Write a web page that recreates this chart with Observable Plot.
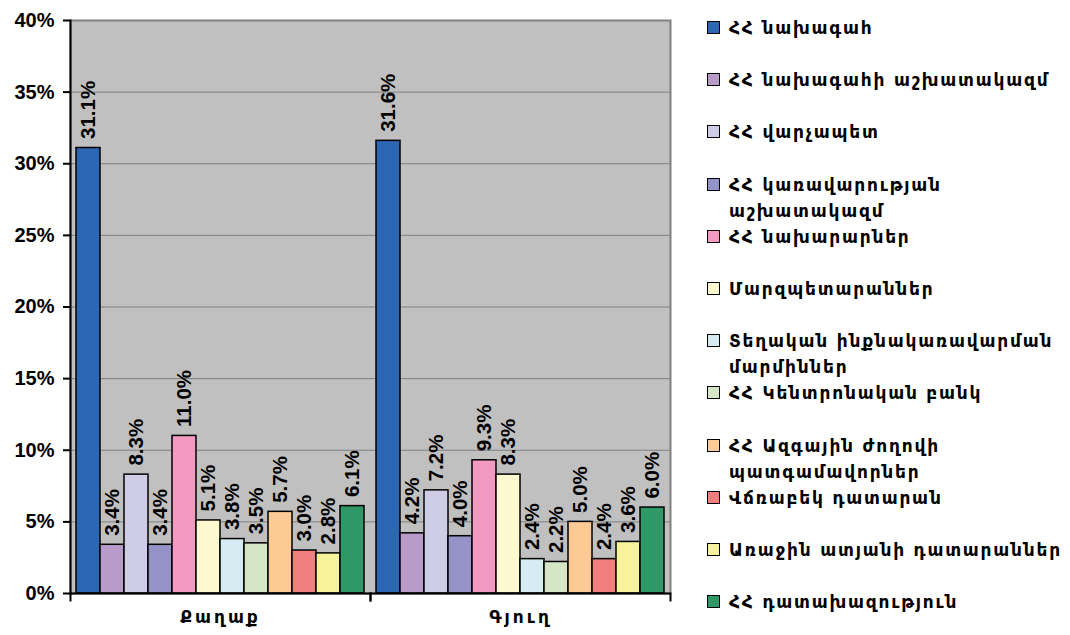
<!DOCTYPE html>
<html>
<head>
<meta charset="utf-8">
<script src="https://cdn.jsdelivr.net/npm/d3@7"></script>
<script src="https://cdn.jsdelivr.net/npm/@observablehq/plot@0.6"></script>
<style>
  html, body { margin: 0; padding: 0; background: #fff; }
  #wrap { position: relative; width: 1070px; height: 635px; overflow: hidden; }
  #legend { position: absolute; left: 707px; top: 15px; width: 363px;
    font-family: "DejaVu Sans", sans-serif; font-weight: bold; font-size: 17px; color: #000; }
  .item { display: flex; align-items: flex-start; height: 52.2px; }
  .sw { width: 11px; height: 11px; border: 1.5px solid #000; flex: none; margin-top: 6px; margin-right: 9px; }
  .lbl { line-height: 26px; letter-spacing: 1.8px; width: 342px; }
  svg [aria-label="fx-axis tick label"] text { letter-spacing: 3px; }
</style>
</head>
<body>
<div id="wrap"><div id="chart"></div><div id="legend"></div></div>
<script>
const categories = ["Քաղաք", "Գյուղ"];
const series = [
  "ՀՀ նախագահ",
  "ՀՀ նախագահի աշխատակազմ",
  "ՀՀ վարչապետ",
  "ՀՀ կառավարության աշխատակազմ",
  "ՀՀ նախարարներ",
  "Մարզպետարաններ",
  "Տեղական ինքնակառավարման մարմիններ",
  "ՀՀ Կենտրոնական բանկ",
  "ՀՀ Ազգային ժողովի պատգամավորներ",
  "Վճռաբեկ դատարան",
  "Առաջին ատյանի դատարաններ",
  "ՀՀ դատախազություն"
];
const cityValues = [31.1, 3.4, 8.3, 3.4, 11.0, 5.1, 3.8, 3.5, 5.7, 3.0, 2.8, 6.1];
const villageValues = [31.6, 4.2, 7.2, 4.0, 9.3, 8.3, 2.4, 2.2, 5.0, 2.4, 3.6, 6.0];
const colors = ["#2b67b3", "#b89bc9", "#cfcce8", "#9393c7", "#f49ac2", "#fcf8d0",
                "#d5ecf3", "#d4e6c6", "#fdc995", "#f17f7f", "#f7f39a", "#2e9866"];
const yTicks = [0, 5, 10, 15, 20, 25, 30, 35, 40];

const valuesByCategory = [cityValues, villageValues];
const data = categories.flatMap((c, ci) =>
  series.map((s, si) => ({category: c, series: s, value: valuesByCategory[ci][si]})));

const chart = Plot.plot({
  width: 1070,
  height: 635,
  marginLeft: 69,
  marginRight: 400,
  marginTop: 20,
  marginBottom: 42,
  style: {fontFamily: "'Liberation Sans', Arial, sans-serif", background: "transparent", overflow: "visible"},
  fx: {domain: categories, padding: 0, label: null, axis: null},
  x: {domain: series, paddingInner: 0, paddingOuter: 0.25, axis: null},
  y: {domain: [0, 40], axis: null},
  color: {domain: series, range: colors},
  marks: [
    Plot.frame({facet: "super", fill: "#c0c0c0"}),
    Plot.gridY(yTicks, {stroke: "#808080", strokeOpacity: 1, strokeWidth: 1}),
    Plot.frame({facet: "super", stroke: "#808080", strokeWidth: 2}),
    Plot.barY(data, {fx: "category", x: "series", y: "value", fill: "series",
      stroke: "#000", strokeWidth: 1.5}),
    Plot.text(data, {fx: "category", x: "series", y: "value",
      text: d => d.value.toFixed(1) + "%", rotate: -90, textAnchor: "start", lineAnchor: "middle",
      dy: -9, fontSize: 20.5, fontWeight: "bold", fill: "#000"}),
    Plot.ruleY([0], {stroke: "#000", strokeWidth: 2}),
    Plot.frame({anchor: "left", stroke: "#000", strokeWidth: 2, insetTop: 573, insetBottom: -7}),
    Plot.frame({anchor: "right", stroke: "#000", strokeWidth: 2, insetTop: 573, insetBottom: -7}),
    Plot.frame({facet: "super", anchor: "left", stroke: "#000", strokeWidth: 2}),
    Plot.axisY({ticks: yTicks, tickFormat: d => d + "%", tickSize: 7, tickPadding: 9,
      fontSize: 20, fontWeight: "bold", label: null, strokeWidth: 2}),
    Plot.axisFx({anchor: "bottom", tickSize: 0, tickPadding: 17, fontSize: 17, fontWeight: "bold", label: null,
      fontFamily: "'DejaVu Sans', sans-serif"})
  ]
});
document.getElementById("chart").appendChild(chart);

const legend = document.getElementById("legend");
series.forEach((s, i) => {
  const item = document.createElement("div");
  item.className = "item";
  const sw = document.createElement("div");
  sw.className = "sw";
  sw.style.background = colors[i];
  const lbl = document.createElement("div");
  lbl.className = "lbl";
  lbl.textContent = s;
  item.appendChild(sw);
  item.appendChild(lbl);
  legend.appendChild(item);
});
</script>
</body>
</html>
